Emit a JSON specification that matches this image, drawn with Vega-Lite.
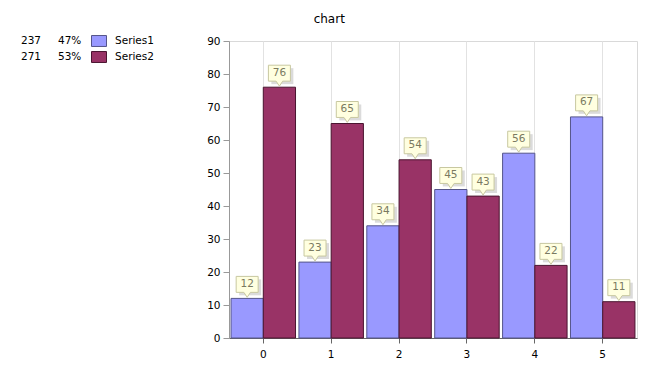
{
  "$schema": "https://vega.github.io/schema/vega-lite/v6.json",
  "background": "white",
  "padding": {"left": 21, "top": 12, "right": 5, "bottom": 5},
  "title": {"text": "chart", "fontSize": 12, "fontWeight": "normal", "anchor": "middle", "offset": 8, "color": "#000000"},
  "spacing": 52,
  "config": {
    "font": "DejaVu Sans",
    "view": {"stroke": null},
    "axis": {"labelFontSize": 10.5, "labelColor": "#000000"}
  },
  "hconcat": [
    {
      "width": 96,
      "height": 16,
      "data": {"values": [
        {"series": "Series1", "total": "237", "pct": "47%"},
        {"series": "Series2", "total": "271", "pct": "53%"}
      ]},
      "encoding": {
        "y": {"field": "series", "type": "nominal", "scale": {"type": "point", "padding": 0}, "axis": null}
      },
      "layer": [
        {"mark": {"type": "text", "align": "left", "baseline": "middle", "fontSize": 10.5, "color": "#000000"},
         "encoding": {"x": {"datum": "c1", "type": "nominal", "scale": {"type": "point", "domain": ["c1", "c2", "c3", "c4"], "padding": 0}, "axis": null}, "text": {"field": "total"}}},
        {"mark": {"type": "text", "align": "left", "baseline": "middle", "fontSize": 10.5, "color": "#000000", "dx": 5},
         "encoding": {"x": {"datum": "c2", "type": "nominal"}, "text": {"field": "pct"}}},
        {"mark": {"type": "point", "shape": "M-1,-0.73 L1,-0.73 L1,0.73 L-1,0.73 Z", "size": 225, "filled": true, "strokeWidth": 1, "opacity": 1, "xOffset": 14},
         "encoding": {"x": {"datum": "c3", "type": "nominal"},
           "fill": {"field": "series", "type": "nominal", "scale": {"domain": ["Series1", "Series2"], "range": ["#9999ff", "#993366"]}, "legend": null},
           "stroke": {"field": "series", "type": "nominal", "scale": {"domain": ["Series1", "Series2"], "range": ["#55558a", "#4a1530"]}, "legend": null}}},
        {"mark": {"type": "text", "align": "left", "baseline": "middle", "fontSize": 10.5, "color": "#000000", "dx": -2},
         "encoding": {"x": {"datum": "c4", "type": "nominal"}, "text": {"field": "series"}}}
      ]
    },
    {
      "width": 408,
      "height": 297,
      "view": {"stroke": "#d9d9d9"},
      "data": {"values": [
        {"cat": "0", "series": "Series1", "value": 12},
        {"cat": "0", "series": "Series2", "value": 76},
        {"cat": "1", "series": "Series1", "value": 23},
        {"cat": "1", "series": "Series2", "value": 65},
        {"cat": "2", "series": "Series1", "value": 34},
        {"cat": "2", "series": "Series2", "value": 54},
        {"cat": "3", "series": "Series1", "value": 45},
        {"cat": "3", "series": "Series2", "value": 43},
        {"cat": "4", "series": "Series1", "value": 56},
        {"cat": "4", "series": "Series2", "value": 22},
        {"cat": "5", "series": "Series1", "value": 67},
        {"cat": "5", "series": "Series2", "value": 11}
      ]},
      "encoding": {
        "x": {"field": "cat", "type": "nominal", "scale": {"paddingInner": 0.05, "paddingOuter": 0.03},
          "axis": {"title": null, "labelAngle": 0, "grid": true, "gridColor": "#e2e2e2", "domainColor": "#666666", "tickColor": "#666666", "tickSize": 5, "labelPadding": 6}},
        "xOffset": {"field": "series", "type": "nominal", "scale": {"paddingInner": 0, "paddingOuter": 0}},
        "y": {"field": "value", "type": "quantitative", "scale": {"domain": [0, 90], "nice": false},
          "axis": {"title": null, "values": [0, 10, 20, 30, 40, 50, 60, 70, 80, 90], "grid": false, "domainColor": "#999999", "tickColor": "#999999", "tickSize": 6, "labelPadding": 3}}
      },
      "layer": [
        {"mark": {"type": "bar", "strokeWidth": 1},
         "encoding": {
           "fill": {"field": "series", "type": "nominal", "scale": {"domain": ["Series1", "Series2"], "range": ["#9999ff", "#993366"]}, "legend": null},
           "stroke": {"field": "series", "type": "nominal", "scale": {"domain": ["Series1", "Series2"], "range": ["#55558a", "#4a1530"]}, "legend": null}}},
        {"mark": {"type": "point", "shape": "M-0.73,-1.73 L1.27,-1.73 L1.27,-0.28 L-0.73,-0.28 Z", "size": 484, "filled": true, "fill": "#888888", "opacity": 0.3, "strokeWidth": 0}},
        {"mark": {"type": "point", "shape": "M-1,-2 L1,-2 L1,-0.55 L0.3,-0.55 L0,-0.1 L-0.3,-0.55 L-1,-0.55 Z", "size": 484, "filled": true, "fill": "#ffffe0", "stroke": "#c8c8a0", "strokeWidth": 1, "opacity": 1}},
        {"mark": {"type": "text", "dy": -14.5, "baseline": "middle", "fontSize": 10.5, "color": "#7a7a60"},
         "encoding": {"text": {"field": "value", "type": "quantitative"}}}
      ]
    }
  ]
}
